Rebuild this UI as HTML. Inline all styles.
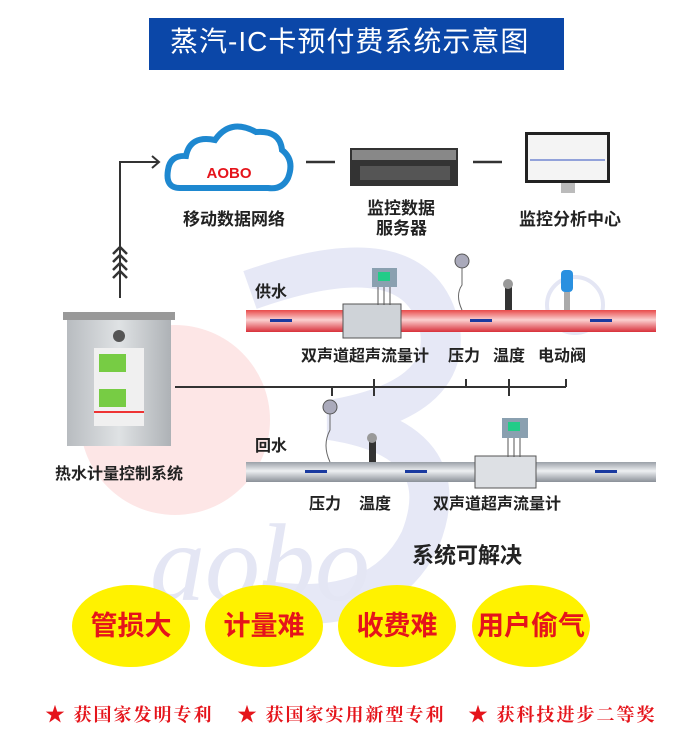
<!DOCTYPE html><html><head><meta charset="utf-8"><style>
body{margin:0;width:700px;height:748px;background:#fff;position:relative;overflow:hidden;font-family:"Liberation Sans","Noto Sans CJK SC",sans-serif}
.t{position:absolute;white-space:nowrap;font-weight:bold;color:#222;font-size:16px;line-height:1}
.c{position:absolute;width:118px;height:82px;border-radius:50%;background:#fff200;top:585px;color:#e5141b;font-size:27px;font-weight:bold;text-align:center;line-height:82px}
.r{position:absolute;top:698px;color:#e5141b;font-family:"Liberation Serif","Noto Serif CJK SC",serif;font-weight:bold;font-size:18px;letter-spacing:2px;white-space:nowrap}
</style></head><body>
<svg width="700" height="748" style="position:absolute;left:0;top:0">
<defs>
<linearGradient id="rp" x1="0" y1="0" x2="0" y2="1"><stop offset="0" stop-color="#e84a4a"/><stop offset=".45" stop-color="#fbd0d0"/><stop offset="1" stop-color="#d8303a"/></linearGradient>
<linearGradient id="gp" x1="0" y1="0" x2="0" y2="1"><stop offset="0" stop-color="#9aa0a8"/><stop offset=".45" stop-color="#eef0f2"/><stop offset="1" stop-color="#8a9098"/></linearGradient>
<linearGradient id="cab" x1="0" y1="0" x2="1" y2="0"><stop offset="0" stop-color="#b8bcc0"/><stop offset=".5" stop-color="#dfe2e4"/><stop offset="1" stop-color="#aeb2b6"/></linearGradient>
</defs>
<circle cx="175" cy="420" r="95" fill="#fde6e6"/>
<path d="M250 290 Q420 230 440 330 Q450 400 330 420 Q460 440 420 540 Q380 620 260 600" fill="none" stroke="#e6e8f6" stroke-width="40"/>
<text x="150" y="600" font-family="Liberation Serif" font-style="italic" font-size="110" fill="#e4e6f4">aobo</text>
<circle cx="575" cy="305" r="28" fill="none" stroke="#e4e6f4" stroke-width="4"/>
<rect x="149" y="18" width="415" height="52" fill="#0b47a8"/>
<path d="M120 298 V162 H158" fill="none" stroke="#333" stroke-width="2"/>
<path d="M152 156 L159 162 L152 168" fill="none" stroke="#333" stroke-width="2"/>
<g fill="none" stroke="#333" stroke-width="2.5"><path d="M113 254 L120 247 L127 254"/><path d="M113 262 L120 255 L127 262"/><path d="M113 270 L120 263 L127 270"/><path d="M113 278 L120 271 L127 278"/></g>
<path d="M180 188 Q165 188 168 170 Q170 155 186 156 Q190 135 215 140 Q230 118 256 132 Q280 130 282 150 Q295 160 288 178 Q282 190 268 188 Z" fill="none" stroke="#1e88d0" stroke-width="6"/>
<text x="229" y="178" font-size="15" font-weight="bold" fill="#e5141b" text-anchor="middle" font-family="Liberation Sans">AOBO</text>
<line x1="306" y1="162" x2="335" y2="162" stroke="#333" stroke-width="2.5"/>
<line x1="473" y1="162" x2="502" y2="162" stroke="#333" stroke-width="2.5"/>
<rect x="350" y="148" width="108" height="38" fill="#333"/><rect x="352" y="150" width="104" height="10" fill="#888"/><rect x="360" y="166" width="90" height="14" fill="#555"/>
<rect x="525" y="132" width="85" height="51" fill="#222"/><rect x="528" y="135" width="79" height="45" fill="#f4f4f4"/><line x1="530" y1="160" x2="605" y2="160" stroke="#3050c0"/>
<rect x="561" y="183" width="14" height="10" fill="#bbb"/>
<rect x="246" y="310" width="410" height="22" fill="url(#rp)"/>
<rect x="343" y="304" width="58" height="34" fill="#cfd3d8" stroke="#555"/>
<rect x="372" y="268" width="25" height="19" fill="#8aa0b0"/><rect x="378" y="272" width="12" height="9" fill="#2c8"/>
<g stroke="#555"><line x1="378" y1="287" x2="378" y2="305"/><line x1="384" y1="287" x2="384" y2="305"/><line x1="390" y1="287" x2="390" y2="305"/></g>
<circle cx="462" cy="261" r="7" fill="#aab" stroke="#555"/><path d="M462 268 V285 Q455 295 462 310" fill="none" stroke="#666"/>
<rect x="505" y="285" width="7" height="25" fill="#333"/><circle cx="508" cy="284" r="5" fill="#999"/>
<rect x="561" y="270" width="12" height="22" rx="4" fill="#2a90e0"/><rect x="564" y="292" width="6" height="18" fill="#aaa"/>
<g fill="#1a3aa0"><rect x="270" y="319" width="22" height="3"/><rect x="470" y="319" width="22" height="3"/><rect x="590" y="319" width="22" height="3"/></g>
<g stroke="#333" stroke-width="2" fill="none"><line x1="175" y1="387" x2="566" y2="387"/><line x1="332" y1="387" x2="332" y2="396"/><line x1="374" y1="379" x2="374" y2="396"/><line x1="466" y1="379" x2="466" y2="387"/><line x1="509" y1="379" x2="509" y2="396"/><line x1="566" y1="379" x2="566" y2="387"/></g>
<rect x="246" y="462" width="410" height="20" fill="url(#gp)"/>
<rect x="475" y="456" width="61" height="32" fill="#dde0e4" stroke="#555"/>
<rect x="502" y="418" width="26" height="20" fill="#8aa0b0"/><rect x="508" y="422" width="12" height="9" fill="#2c8"/>
<g stroke="#555"><line x1="508" y1="438" x2="508" y2="457"/><line x1="514" y1="438" x2="514" y2="457"/><line x1="520" y1="438" x2="520" y2="457"/></g>
<circle cx="330" cy="407" r="7" fill="#aab" stroke="#555"/><path d="M330 414 V430 Q322 445 330 462" fill="none" stroke="#666"/>
<rect x="369" y="440" width="7" height="22" fill="#333"/><circle cx="372" cy="438" r="5" fill="#999"/>
<g fill="#1a3aa0"><rect x="305" y="470" width="22" height="3"/><rect x="405" y="470" width="22" height="3"/><rect x="595" y="470" width="22" height="3"/></g>
<rect x="63" y="312" width="112" height="8" fill="#999"/>
<rect x="67" y="320" width="104" height="126" fill="url(#cab)"/>
<circle cx="119" cy="336" r="6" fill="#555"/>
<rect x="94" y="348" width="50" height="78" fill="#f0f0f0"/>
<rect x="99" y="354" width="27" height="18" fill="#7c4"/><rect x="99" y="389" width="27" height="18" fill="#7c4"/>
<rect x="94" y="411" width="50" height="2" fill="#e33"/>
</svg>
<div class="t" style="left:170px;top:28px;font-size:28px;font-weight:normal;color:#fff;letter-spacing:1px">蒸汽-IC卡预付费系统示意图</div>
<div class="t" style="left:183px;top:211px;font-size:17px">移动数据网络</div>
<div class="t" style="left:367px;top:200px;font-size:17px">监控数据</div>
<div class="t" style="left:376px;top:220px;font-size:17px">服务器</div>
<div class="t" style="left:519px;top:211px;font-size:17px">监控分析中心</div>
<div class="t" style="left:255px;top:285px">供水</div>
<div class="t" style="left:301px;top:349px">双声道超声流量计</div>
<div class="t" style="left:448px;top:349px">压力</div>
<div class="t" style="left:493px;top:349px">温度</div>
<div class="t" style="left:538px;top:349px">电动阀</div>
<div class="t" style="left:255px;top:439px">回水</div>
<div class="t" style="left:55px;top:467px">热水计量控制系统</div>
<div class="t" style="left:309px;top:497px">压力</div>
<div class="t" style="left:359px;top:497px">温度</div>
<div class="t" style="left:433px;top:497px">双声道超声流量计</div>
<div class="t" style="left:412px;top:545px;font-size:22px">系统可解决</div>
<div class="c" style="left:72px">管损大</div>
<div class="c" style="left:205px">计量难</div>
<div class="c" style="left:338px">收费难</div>
<div class="c" style="left:472px">用户偷气</div>
<div class="r" style="left:45px"><span style="font-size:20px">★</span> 获国家发明专利</div>
<div class="r" style="left:237px"><span style="font-size:20px">★</span> 获国家实用新型专利</div>
<div class="r" style="left:468px"><span style="font-size:20px">★</span> 获科技进步二等奖</div>
</body></html>
